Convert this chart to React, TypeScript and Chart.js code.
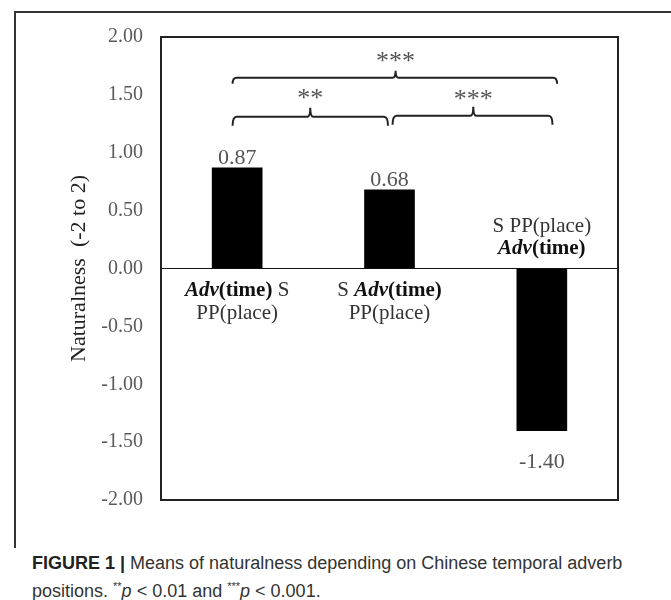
import React, { useEffect, useRef } from 'react';
import { Chart, registerables } from 'chart.js';

Chart.register(...registerables);

// ---------- data ----------
const categories = ['Adv(time) S PP(place)', 'S Adv(time) PP(place)', 'S PP(place) Adv(time)'];
const means = [0.87, 0.68, -1.4];
const yMin = -2;
const yMax = 2;
const yStep = 0.5;
const yTitle = 'Naturalness  (-2 to 2)';

type Seg = [string, 'r' | 'b' | 'bi'];
// rich category labels (line 1 / line 2), styles: r = regular, b = bold, bi = bold italic
const catLine1: Seg[][] = [
  [['Adv', 'bi'], ['(time)', 'b'], [' S', 'r']],
  [['S ', 'r'], ['Adv', 'bi'], ['(time)', 'b']],
  [['S PP(place)', 'r']],
];
const catLine2: Seg[][] = [
  [['PP(place)', 'r']],
  [['PP(place)', 'r']],
  [['Adv', 'bi'], ['(time)', 'b']],
];

// significance brackets, in category-index (x) and value (y) units
const bracketFrom = [-0.03, -0.03, 1.02];
const bracketTo = [2.1, 0.99, 2.07];
const bracketTip = [1.04, 0.48, 1.55];
const bracketY = [1.647, 1.31, 1.32];
const bracketLabelY = [1.836, 1.517, 1.51];
const bracketLabel = ['***', '**', '***'];

const captionBold = 'FIGURE 1 |';
const captionLine1 = ' Means of naturalness depending on Chinese temporal adverb';
const captionLine2a = 'positions. ';
// ---------- rendering ----------
const SERIF = '"Liberation Serif", "Times New Roman", serif';

function segFont(style: string, size: number) {
  if (style === 'bi') return `italic bold ${size}px ${SERIF}`;
  if (style === 'b') return `bold ${size}px ${SERIF}`;
  return `${size}px ${SERIF}`;
}

function drawRich(ctx: CanvasRenderingContext2D, segs: Seg[], cx: number, cy: number, size: number) {
  let total = 0;
  const widths = segs.map(([t, s]) => {
    ctx.font = segFont(s, size);
    const w = ctx.measureText(t).width;
    total += w;
    return w;
  });
  let x = cx - total / 2;
  ctx.textAlign = 'left';
  ctx.textBaseline = 'middle';
  segs.forEach(([t, s], i) => {
    ctx.font = segFont(s, size);
    ctx.fillStyle = s === 'r' ? '#333' : '#111';
    ctx.fillText(t, x, cy);
    x += widths[i];
  });
}

const overlay = {
  id: 'overlay',
  afterDatasetsDraw(chart: any) {
    const { ctx, chartArea: a, scales } = chart;
    const xs = scales.x;
    const ys = scales.y;
    ctx.save();
    // zero line
    const y0 = ys.getPixelForValue(0);
    ctx.strokeStyle = '#111';
    ctx.lineWidth = 1.2;
    ctx.beginPath();
    ctx.moveTo(a.left, y0);
    ctx.lineTo(a.right, y0);
    ctx.stroke();
    // plot box
    ctx.lineWidth = 2;
    ctx.strokeStyle = '#222';
    ctx.strokeRect(a.left, a.top, a.right - a.left, a.bottom - a.top);

    // value labels
    const meta = chart.getDatasetMeta(0);
    ctx.fillStyle = '#555';
    ctx.font = `22px ${SERIF}`;
    ctx.textAlign = 'center';
    meta.data.forEach((el: any, i: number) => {
      const v = means[i];
      const txt = v.toFixed(2);
      if (v >= 0) {
        ctx.textBaseline = 'alphabetic';
        ctx.fillText(txt, el.x, el.y - 4);
      } else {
        ctx.textBaseline = 'middle';
        ctx.fillText(txt, el.x, el.y + 32);
      }
    });

    // category labels
    meta.data.forEach((el: any, i: number) => {
      const v = means[i];
      if (v >= 0) {
        drawRich(ctx, catLine1[i], el.x, y0 + 22, 21);
        drawRich(ctx, catLine2[i], el.x, y0 + 45, 21);
      } else {
        drawRich(ctx, catLine1[i], el.x, y0 - 42, 21);
        drawRich(ctx, catLine2[i], el.x, y0 - 20, 21);
      }
    });

    // brackets
    bracketFrom.forEach((f, i) => {
      const x1 = xs.getPixelForValue(f);
      const x2 = xs.getPixelForValue(bracketTo[i]);
      const xt = xs.getPixelForValue(bracketTip[i]);
      const yl = ys.getPixelForValue(bracketY[i]);
      const drop = i === 0 ? 6 : 9;
      const tipH = i === 0 ? 7 : 9;
      const r = 4;
      ctx.strokeStyle = '#222';
      ctx.lineWidth = 2;
      ctx.beginPath();
      ctx.moveTo(x1, yl + drop);
      ctx.quadraticCurveTo(x1, yl, x1 + r, yl);
      ctx.lineTo(xt - 3, yl);
      ctx.quadraticCurveTo(xt, yl, xt, yl - tipH);
      ctx.quadraticCurveTo(xt, yl, xt + 3, yl);
      ctx.lineTo(x2 - r, yl);
      ctx.quadraticCurveTo(x2, yl, x2, yl + drop);
      ctx.stroke();
      // label
      const ly = ys.getPixelForValue(bracketLabelY[i]);
      ctx.fillStyle = '#555';
      ctx.font = `26px ${SERIF}`;
      ctx.textAlign = 'center';
      ctx.textBaseline = 'alphabetic';
      ctx.fillText(bracketLabel[i], xt, ly + 13);
    });
    ctx.restore();
  },
};

export default function App() {
  const ref = useRef<HTMLCanvasElement | null>(null);
  useEffect(() => {
    if (!ref.current) return;
    const chart = new Chart(ref.current, {
      type: 'bar',
      data: {
        labels: categories,
        datasets: [{ data: means, backgroundColor: '#000', borderWidth: 0, barThickness: 50 }],
      },
      options: {
        responsive: false,
        animation: false,
        layout: { padding: { top: 37, right: 53, bottom: 29, left: 0 } },
        plugins: { legend: { display: false }, tooltip: { enabled: false } },
        scales: {
          x: { display: false },
          y: {
            min: yMin,
            max: yMax,
            ticks: {
              stepSize: yStep,
              callback: (v: any) => Number(v).toFixed(2),
              font: { family: SERIF, size: 20 },
              color: '#5a5a5a',
              padding: 18,
            },
            grid: { display: false, drawTicks: false },
            border: { display: false },
            title: {
              display: true,
              text: yTitle,
              font: { family: SERIF, size: 22 },
              color: '#222',
              padding: { top: 66, bottom: 0 },
            },
            afterFit: (s: any) => {
              s.width = 161;
            },
          },
        },
      },
      plugins: [overlay],
    });
    return () => chart.destroy();
  }, []);

  return (
    <div style={{ position: 'absolute', left: 0, top: 0, width: 671, height: 600, background: '#fff', overflow: 'hidden' }}>
      <div
        style={{
          position: 'absolute',
          left: 14,
          top: 11,
          width: 720,
          height: 537,
          borderTop: '2px solid #333',
          borderLeft: '2px solid #333',
          boxSizing: 'border-box',
        }}
      />
      <canvas ref={ref} width={671} height={530} style={{ position: 'absolute', left: 0, top: 0, width: 671, height: 530 }} />
      <div
        style={{
          position: 'absolute',
          left: 32,
          top: 552,
          width: 639,
          fontFamily: '"Liberation Sans", Arial, sans-serif',
          fontSize: 18,
          lineHeight: '23px',
          color: '#333',
          whiteSpace: 'nowrap',
        }}
      >
        <b style={{ color: '#222' }}>{captionBold}</b>
        {captionLine1}
        <br />
        {captionLine2a}
        <sup style={{ fontSize: 11 }}>**</sup>
        <i>p</i> &lt; 0.01 and <sup style={{ fontSize: 11 }}>***</sup>
        <i>p</i> &lt; 0.001.
      </div>
    </div>
  );
}
